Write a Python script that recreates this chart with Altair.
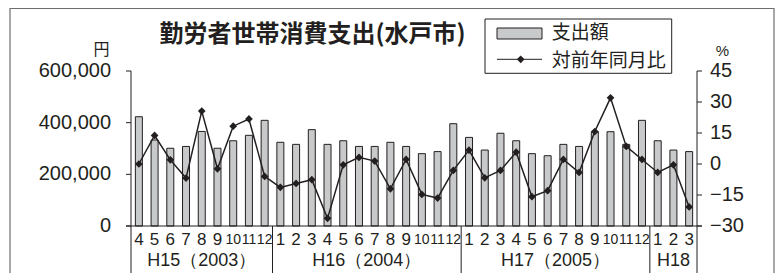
import altair as alt
import pandas as pd

# ---- data ----
year_names = ["H15（2003）", "H16（2004）", "H17（2005）", "H18"]
year_counts = [9, 12, 12, 3]
months = [4, 5, 6, 7, 8, 9, 10, 11, 12,
          1, 2, 3, 4, 5, 6, 7, 8, 9, 10, 11, 12,
          1, 2, 3, 4, 5, 6, 7, 8, 9, 10, 11, 12,
          1, 2, 3]
spend = [423000, 333000, 301000, 308000, 366000, 301000, 330000, 351000, 409000,
         324000, 316000, 373000, 316000, 330000, 308000, 308000, 324000, 308000, 280000, 288000, 396000,
         343000, 294000, 359000, 330000, 280000, 272000, 316000, 308000, 365000, 365000, 316000, 409000,
         330000, 294000, 288000]
pct = [0.0, 13.8, 2.0, -6.8, 25.6, -2.3, 18.3, 21.8, -6.0,
       -11.3, -9.4, -7.6, -26.3, -0.4, 3.2, 1.4, -12.0, 2.2, -14.7, -16.5, -3.1,
       6.7, -6.7, -3.1, 5.7, -15.8, -12.9, 2.2, -4.1, 15.7, 32.0, 8.5, 2.2,
       -4.1, -0.4, -20.8]
left_ticks = [0, 200000, 400000, 600000]
right_ticks = [-30, -15, 0, 15, 30, 45]
title_text = "勤労者世帯消費支出(水戸市)"
legend_bar = "支出額"
legend_line = "対前年同月比"

INK = "#231f20"
BAR = "#c8c9ca"
JP = "Noto Sans CJK JP"
LAT = "Liberation Sans"
W, H = 576, 155

n = len(months)
df = pd.DataFrame({"idx": list(range(n)), "month": [str(m) for m in months],
                   "spend": spend, "pct": pct})

starts = []
s = 0
for c in year_counts:
    starts.append(s)
    s += c
bounds = [st - 0.5 for st in starts[1:]]
centers = [st + (c - 1) / 2 for st, c in zip(starts, year_counts)]
ydf = pd.DataFrame({"name": year_names, "c": centers})
sep_df = pd.DataFrame({"pos": bounds})
edge_df = pd.DataFrame({"pos": [-0.5, n - 0.5]})

xscale = alt.Scale(domain=[-0.5, n - 0.5], nice=False, zero=False)
yL = alt.Scale(domain=[0, 600000], nice=False)
yR = alt.Scale(domain=[-30, 45], nice=False)

X = lambda f: alt.X(f, scale=xscale, axis=None)
YL = lambda f: alt.Y(f, scale=yL, axis=None)
YR = lambda f: alt.Y(f, scale=yR, axis=None)

one = pd.DataFrame({"t": [0]})

frame = alt.Chart(one).mark_rect(fillOpacity=0, stroke="#6d6e70", strokeWidth=1.2).encode(
    x=alt.value(-116), x2=alt.value(648), y=alt.value(-62.5), y2=alt.value(260))

bars = alt.Chart(df).mark_bar(size=7, fill=BAR, stroke=INK, strokeWidth=1).encode(
    x=X("idx:Q"), y=YL("spend:Q"))

ltick_df = pd.DataFrame({"spend": left_ticks})
lticks = alt.Chart(ltick_df).mark_rule(color=INK, strokeWidth=1).encode(
    y=YL("spend:Q"), x=alt.value(0), x2=alt.value(5))
llabels = alt.Chart(ltick_df).mark_text(font=LAT, fontSize=20, color=INK, align="right",
                                        baseline="middle").encode(
    y=YL("spend:Q"), x=alt.value(-15), text=alt.Text("spend:Q", format=","))

baseline = alt.Chart(one).mark_rule(color=INK, strokeWidth=1).encode(
    x=alt.value(0), x2=alt.value(W), y=alt.value(H))
edges = alt.Chart(edge_df).mark_rule(color=INK, strokeWidth=1).encode(
    x=X("pos:Q"), y=alt.value(0), y2=alt.value(215))
seps = alt.Chart(sep_df).mark_rule(color=INK, strokeWidth=1).encode(
    x=X("pos:Q"), y=alt.value(H), y2=alt.value(215))

mlabels1 = alt.Chart(df).transform_filter("length(datum.month) == 1").mark_text(
    font=LAT, fontSize=17, color=INK, baseline="middle").encode(
    x=X("idx:Q"), y=alt.value(168.5), text="month:N")
mlabels2 = alt.Chart(df).transform_filter("length(datum.month) > 1").mark_text(
    font=LAT, fontSize=14, color=INK, baseline="middle").encode(
    x=X("idx:Q"), y=alt.value(169), text="month:N")
years = alt.Chart(ydf).mark_text(font=LAT, fontSize=18, color=INK, baseline="middle").encode(
    x=X("c:Q"), y=alt.value(190), text="name:N")

def label(txt, x, y, size, font, **kw):
    return alt.Chart(pd.DataFrame({"t": [txt]})).mark_text(
        font=font, fontSize=size, color=INK, baseline="middle", **kw).encode(
        x=alt.value(x), y=alt.value(y), text="t:N")

title = label(title_text, 186.5, -36, 24, JP, fontWeight="bold")
yen = label("円", -24.5, -21, 16, JP)
pc = label("%", 596.5, -20, 15, LAT)

leg_box = alt.Chart(one).mark_rect(fill="white", stroke=INK, strokeWidth=1).encode(
    x=alt.value(359), x2=alt.value(545.7), y=alt.value(-52), y2=alt.value(2.3))
leg_rect = alt.Chart(one).mark_rect(fill=BAR, stroke=INK, strokeWidth=1).encode(
    x=alt.value(371), x2=alt.value(416), y=alt.value(-43), y2=alt.value(-32))
leg_line = alt.Chart(one).mark_rule(color=INK, strokeWidth=1).encode(
    x=alt.value(371), x2=alt.value(416), y=alt.value(-11.7))
leg_pt = alt.Chart(one).mark_point(shape="diamond", filled=True, size=60, color=INK, opacity=1).encode(
    x=alt.value(394.7), y=alt.value(-11.7))
leg_t1 = label(legend_bar, 425.7, -38, 19, JP, align="left")
leg_t2 = label(legend_line, 425.7, -10.5, 19, JP, align="left")

left_group = alt.layer(frame, bars, lticks, llabels, baseline, edges, seps, mlabels1, mlabels2,
                       years, title, yen, pc, leg_box, leg_rect, leg_line, leg_pt, leg_t1, leg_t2)

line = alt.Chart(df).mark_line(color=INK, strokeWidth=1.5).encode(
    x=X("idx:Q"), y=YR("pct:Q"))
pts = alt.Chart(df).mark_point(shape="diamond", filled=True, size=60, color=INK, opacity=1).encode(
    x=X("idx:Q"), y=YR("pct:Q"))
rtick_df = pd.DataFrame({"pct": right_ticks})
rticks = alt.Chart(rtick_df).mark_rule(color=INK, strokeWidth=1).encode(
    y=YR("pct:Q"), x=alt.value(W - 5), x2=alt.value(W))
rlabels = alt.Chart(rtick_df).mark_text(font=LAT, fontSize=20, color=INK, align="left",
                                        baseline="middle").encode(
    y=YR("pct:Q"), x=alt.value(W + 8), text=alt.Text("pct:Q", format="d"))

right_group = alt.layer(line, pts, rticks, rlabels)

chart = alt.layer(left_group, right_group).resolve_scale(y="independent").properties(
    width=W, height=H,
    autosize=alt.AutoSizeParams(type="none"),
    padding={"left": 118, "top": 63, "right": 74, "bottom": 47},
    background="white",
).configure_view(stroke=None)

chart.save("out.html", embed_options={"renderer": "svg", "actions": False})
